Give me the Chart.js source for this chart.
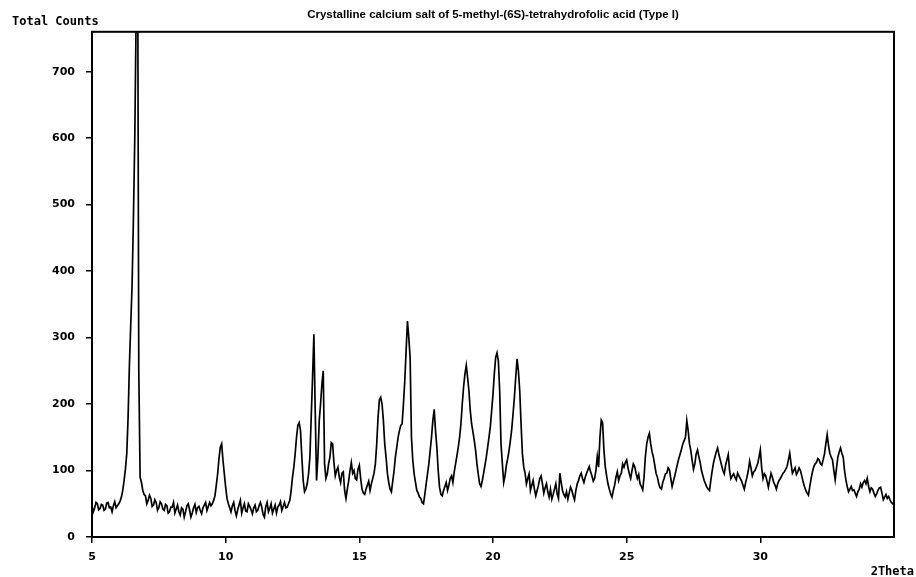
<!DOCTYPE html>
<html>
<head>
<meta charset="utf-8">
<script src="https://cdn.jsdelivr.net/npm/chart.js@4/dist/chart.umd.min.js"></script>
<style>
  body { margin: 0; background: #fff; }
  #wrap { width: 916px; height: 577px; }
</style>
</head>
<body>
<div id="wrap"><canvas id="xrd" width="916" height="577"></canvas></div>
<script>
// 2Theta grid: 5.00 .. 35.00 in steps of 0.05
const thetaStart = 5;
const thetaStep = 0.05;

// counts, one row per degree (20 readings each)
const counts = [
  46, 38, 44, 52, 50, 41, 43, 49, 48, 40, 42, 51, 52, 44, 45, 38, 47, 53, 44, 47,            // 5
  50, 54, 60, 70, 85, 102, 125, 180, 260, 320, 380, 480, 600, 780, 1000, 250, 90, 82, 70, 64, // 6
  62, 50, 55, 63, 58, 46, 48, 56, 52, 40, 44, 53, 50, 42, 40, 49, 47, 36, 38, 45,            // 7
  45, 52, 36, 42, 48, 38, 33, 44, 42, 30, 38, 47, 50, 41, 30, 36, 44, 49, 37, 44,            // 8
  46, 40, 35, 44, 48, 52, 40, 46, 52, 47, 50, 55, 62, 78, 95, 118, 135, 140, 115, 95,        // 9
  75, 58, 50, 44, 38, 47, 52, 40, 32, 41, 48, 55, 36, 44, 50, 39, 38, 50, 46, 41,            // 10
  35, 44, 48, 38, 40, 47, 52, 45, 34, 30, 46, 52, 38, 43, 50, 36, 42, 48, 36, 45,            // 11
  48, 53, 40, 46, 52, 44, 45, 50, 55, 70, 90, 105, 125, 150, 168, 172, 160, 120, 85, 68,     // 12
  72, 80, 95, 120, 180, 240, 305, 190, 85, 120, 175, 200, 230, 250, 110, 88, 95, 110, 120, 142, // 13
  140, 112, 92, 100, 105, 90, 82, 96, 98, 70, 58, 72, 84, 100, 112, 96, 100, 88, 86, 102,    // 14
  108, 88, 72, 66, 64, 72, 78, 84, 70, 80, 88, 96, 110, 140, 180, 206, 210, 200, 175, 140,   // 15
  120, 96, 82, 72, 68, 84, 100, 121, 135, 150, 160, 168, 170, 200, 235, 280, 325, 300, 270, 150, // 16
  115, 95, 82, 70, 66, 60, 58, 52, 50, 64, 80, 95, 110, 130, 150, 175, 192, 160, 135, 100,   // 17
  75, 64, 62, 70, 76, 82, 70, 78, 88, 92, 82, 98, 110, 122, 135, 150, 170, 200, 226, 245,    // 18
  258, 240, 220, 190, 170, 158, 145, 130, 110, 94, 80, 76, 85, 96, 108, 120, 135, 150, 166, 190, // 19
  215, 246, 270, 277, 265, 220, 140, 110, 82, 92, 108, 118, 130, 145, 162, 185, 210, 240, 268, 250, // 20
  220, 170, 125, 105, 96, 80, 88, 95, 70, 78, 85, 72, 62, 70, 78, 88, 92, 80, 66, 74,        // 21
  80, 68, 60, 72, 57, 64, 72, 80, 65, 58, 96, 82, 70, 64, 60, 68, 57, 66, 75, 70,            // 22
  62, 56, 70, 80, 85, 92, 96, 88, 82, 90, 96, 101, 106, 98, 92, 84, 88, 100, 121, 105,       // 23
  150, 176, 172, 130, 106, 92, 80, 72, 65, 60, 70, 78, 90, 98, 85, 92, 96, 110, 105, 112,    // 24
  116, 104, 95, 88, 100, 110, 106, 96, 88, 94, 80, 76, 71, 90, 121, 140, 150, 156, 140, 128, // 25
  120, 108, 96, 90, 80, 74, 72, 82, 88, 95, 96, 104, 101, 88, 76, 84, 92, 101, 110, 118,     // 26
  125, 132, 140, 145, 150, 175, 160, 140, 130, 115, 102, 110, 125, 131, 121, 112, 100, 92, 85, 80, // 27
  75, 72, 70, 86, 100, 112, 120, 128, 134, 124, 116, 108, 100, 95, 108, 116, 124, 100, 88, 92, // 28
  95, 90, 86, 96, 92, 88, 84, 78, 72, 82, 90, 100, 114, 104, 92, 98, 100, 105, 110, 120,     // 29
  131, 104, 88, 95, 92, 84, 75, 86, 96, 90, 82, 78, 72, 80, 85, 88, 92, 96, 98, 102,         // 30
  106, 116, 126, 110, 96, 100, 104, 94, 98, 104, 100, 92, 83, 76, 70, 66, 63, 76, 88, 98,    // 31
  106, 110, 112, 118, 116, 110, 108, 116, 125, 140, 154, 138, 126, 120, 116, 100, 86, 104, 120, 128, // 32
  134, 126, 120, 100, 86, 76, 68, 72, 76, 70, 71, 66, 61, 68, 72, 80, 75, 82, 85, 80,        // 33
  88, 76, 68, 74, 72, 66, 61, 65, 70, 74, 75, 66, 56, 60, 64, 58, 61, 56, 52, 50,            // 34
  48                                                                                       // 35
];

const xTicks = [5, 10, 15, 20, 25, 30];
const yTicks = [0, 100, 200, 300, 400, 500, 600, 700];

const titleText = 'Crystalline calcium salt of 5-methyl-(6S)-tetrahydrofolic acid (Type I)';
const yLabel = 'Total Counts';
const xLabel = '2Theta';

const points = counts.map((c, i) => ({ x: +(thetaStart + i * thetaStep).toFixed(2), y: c }));

// box around the plot plus the two loose axis labels
const framePlugin = {
  id: 'frame',
  afterDraw(chart) {
    const { ctx, chartArea: a } = chart;
    ctx.save();
    ctx.strokeStyle = '#000';
    ctx.lineWidth = 2;
    ctx.strokeRect(a.left, a.top, a.right - a.left, a.bottom - a.top);
    ctx.fillStyle = '#000';
    ctx.font = 'bold 12px "DejaVu Sans Mono"';
    ctx.textBaseline = 'alphabetic';
    ctx.textAlign = 'left';
    ctx.fillText(yLabel, 12, 25);
    ctx.textAlign = 'right';
    ctx.fillText(xLabel, 914, 575);
    ctx.restore();
  }
};

const tickFont = { family: '"DejaVu Sans"', size: 11, weight: 'bold' };

new Chart(document.getElementById('xrd'), {
  type: 'line',
  data: {
    datasets: [{
      data: points,
      borderColor: '#000',
      borderWidth: 1.7,
      pointRadius: 0,
      tension: 0
    }]
  },
  options: {
    responsive: false,
    animation: false,
    devicePixelRatio: 1,
    layout: { padding: { right: 22, left: 0, bottom: 0, top: 0 } },
    plugins: {
      legend: { display: false },
      tooltip: { enabled: false },
      title: {
        display: true,
        text: titleText,
        fullSize: false,
        color: '#000',
        font: { family: '"Liberation Sans"', size: 11.5, weight: 'bold' },
        padding: { top: 8, bottom: 10 }
      }
    },
    scales: {
      x: {
        type: 'linear',
        min: 5,
        max: 35,
        afterBuildTicks: s => { s.ticks = xTicks.map(v => ({ value: v })); },
        afterFit: s => { s.height = 40; },
        ticks: { color: '#000', font: tickFont, padding: 8, maxRotation: 0 },
        grid: { drawOnChartArea: false, drawTicks: true, tickLength: 6, color: '#000', lineWidth: 1.5 },
        border: { display: true, color: '#000', width: 2 }
      },
      y: {
        min: 0,
        max: 760,
        afterBuildTicks: s => { s.ticks = yTicks.map(v => ({ value: v })); },
        afterFit: s => { s.width = 92; },
        ticks: { color: '#000', font: tickFont, padding: 11 },
        grid: { drawOnChartArea: false, drawTicks: true, tickLength: 6, color: '#000', lineWidth: 1.5 },
        border: { display: true, color: '#000', width: 2 }
      }
    }
  },
  plugins: [framePlugin]
});
</script>
</body>
</html>
